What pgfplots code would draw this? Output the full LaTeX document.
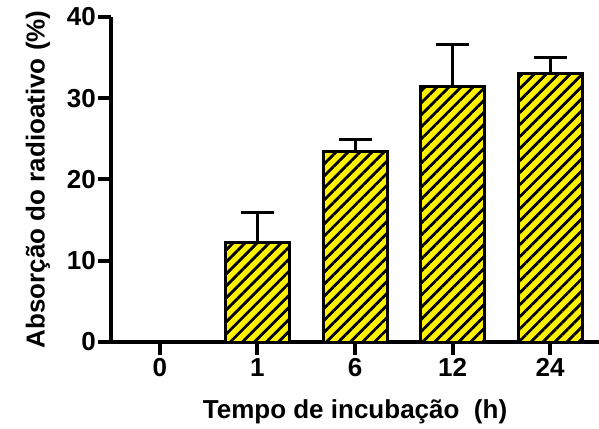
\documentclass[border=0pt]{standalone}
\usepackage{fontspec}
\setmainfont{Liberation Sans}
\usepackage{pgfplots}
\pgfplotsset{compat=1.18}
\usetikzlibrary{patterns.meta}
\begin{document}
\begin{tikzpicture}
\begin{axis}[
  at={(0,0)}, anchor=south west,
  scale only axis, width=488pt, height=325pt,
  xmin=-0.5, xmax=4.5, ymin=0, ymax=40,
  axis x line=bottom, axis y line=left,
  axis line style={-, line width=4pt, black},
  xtick={0,1,2,3,4}, xticklabels={0,1,6,12,24},
  ytick={0,10,20,30,40},
  tick align=outside,
  major tick length=13pt,
  major tick style={line width=4pt, black},
  /pgf/number format/assume math mode=true,
  tick label style={font=\fontsize{26}{30}\selectfont\bfseries},
  yticklabel style={inner xsep=2pt},
  label style={font=\fontsize{26}{30}\selectfont\bfseries},
  xlabel={Tempo de incubação\ \ (h)},
  ylabel={Absorção do radioativo (\%)},
  xlabel style={at={(axis description cs:0.5,0)}, anchor=base, yshift=-76pt},
  ylabel style={at={(axis description cs:-0.15,0.5)}, anchor=center},
  ybar, bar width=64pt,
]
\addplot[ybar, draw=black, line width=3pt, fill=yellow,
  postaction={pattern={Lines[angle=45,distance=8.5pt,line width=2.8pt]}, pattern color=black},
  error bars/.cd, y dir=plus, y explicit,
  error bar style={line width=3pt, black},
  error mark options={rotate=90, mark size=16.5pt, line width=3pt, black}]
coordinates {
  (1,12.2) +- (0,3.7)
  (2,23.5) +- (0,1.4)
  (3,31.4) +- (0,5.2)
  (4,33.1) +- (0,1.9)
};
\end{axis}
\pgfresetboundingbox
\path[use as bounding box] (-111pt,-86pt) rectangle (488pt,342pt);
\end{tikzpicture}
\end{document}
